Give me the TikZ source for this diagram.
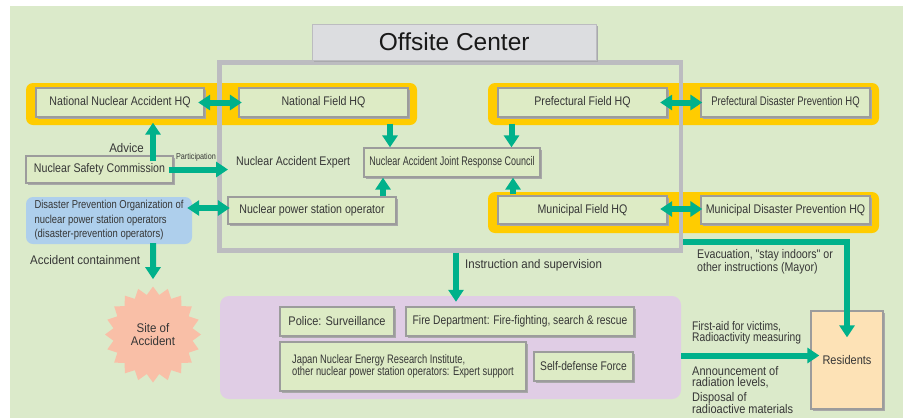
\documentclass[tikz,border=0pt]{standalone}
\usepackage{fontspec}
\setmainfont{Liberation Sans}
\newfontfamily\fA{Liberation Sans}[FakeStretch=0.85]
\newfontfamily\fB{Liberation Sans}[FakeStretch=0.76]
\newfontfamily\fC{Liberation Sans}[FakeStretch=0.72]
\newfontfamily\fL{Liberation Sans}[FakeStretch=0.92]
\newfontfamily\fM{Liberation Sans}[FakeStretch=0.82]
\newfontfamily\fN{Liberation Sans}[FakeStretch=0.88]
\newcommand\fsz{\fontsize{12.5}{14}\selectfont}
\usetikzlibrary{arrows.meta,shapes.geometric,shadows,calc}
\definecolor{bg}{HTML}{DBEACA}
\definecolor{boxfill}{HTML}{DDEBC5}
\definecolor{boxline}{HTML}{9C9C9C}
\definecolor{shadowc}{HTML}{A8A8A8}
\definecolor{yel}{HTML}{FFCC00}
\definecolor{framec}{HTML}{BCBCC0}
\definecolor{titlefill}{HTML}{DCDDE0}
\definecolor{arrowc}{HTML}{00B18B}
\definecolor{bluef}{HTML}{AECFEC}
\definecolor{purp}{HTML}{E0CDE5}
\definecolor{starc}{HTML}{F9BFA7}
\definecolor{resc}{HTML}{FDE2B6}
\definecolor{txt}{HTML}{363636}
\begin{document}
\begin{tikzpicture}[x=1pt,y=-1pt,
  box/.style={draw=boxline,line width=1.3pt,fill=boxfill,text=txt,inner sep=0pt,
    minimum height=29pt,font=\fA\fsz,
    drop shadow={shadow xshift=1.8pt,shadow yshift=-1.8pt,fill=shadowc,opacity=1}},
  lab/.style={text=txt,inner sep=0pt,font=\fL\fsz,align=left},
  arr/.style={draw=arrowc,line width=6pt,-{Triangle[width=15pt,length=12pt]}},
  darr/.style={draw=arrowc,line width=6pt,{Triangle[width=15pt,length=12pt]}-{Triangle[width=15pt,length=12pt]}},
  bar/.style={fill=yel,rounded corners=7pt}
]
\useasboundingbox (0,0) rectangle (912,418);
\fill[white] (0,0) rectangle (912,418);
\fill[bg] (10,6) rectangle (903,418);

% yellow bars
\fill[bar] (26,83) rectangle (417,125);
\fill[bar] (488,83) rectangle (879,125);
\fill[bar] (488,192) rectangle (879,233);

% offsite center frame and title
\node[draw=framec,line width=4.5pt,minimum width=461.3pt,minimum height=187.6pt,inner sep=0pt] (frame) at (450.35,156.5) {};
\node[draw=framec,line width=1pt,fill=titlefill,minimum width=283.7pt,minimum height=35.7pt,inner sep=0pt,
  font=\fontsize{24.5}{28}\selectfont,text=black!90,
  drop shadow={shadow xshift=2pt,shadow yshift=-2pt,fill=framec!90!black,opacity=1}] (title) at (454.2,42.2) {Offsite Center};

% purple response area
\node[fill=purp,rounded corners=9pt,minimum width=461pt,minimum height=103pt,inner sep=0pt] (resp) at (450.5,347.5) {};

% boxes
\node[box,minimum width=168pt] (nnahq) at (120,102.5) {National Nuclear Accident HQ};
\node[box,minimum width=169pt] (nfhq) at (323.5,102.5) {National Field HQ};
\node[box,minimum width=169pt] (pfhq) at (582.5,102.5) {Prefectural Field HQ};
\node[box,minimum width=169pt,font=\fB\fsz] (pdphq) at (785.5,102.5) {Prefectural Disaster Prevention HQ};
\node[box,minimum width=169pt,minimum height=28pt] (mfhq) at (582.5,210) {Municipal Field HQ};
\node[box,minimum width=169pt,minimum height=28pt] (mdphq) at (785.5,210) {Municipal Disaster Prevention HQ};
\node[box,minimum width=176pt,font=\fC\fsz] (council) at (452,162.5) {Nuclear Accident Joint Response Council};
\node[box,minimum width=147pt,minimum height=27pt] (nsc) at (99.5,169.5) {Nuclear Safety Commission};
\node[box,minimum width=168pt,minimum height=27pt] (npso) at (312,210.5) {Nuclear power station operator};
\node[fill=bluef,rounded corners=7pt,text=txt,inner sep=0pt,minimum width=166pt,
  minimum height=47pt,align=left,font=\fM\fontsize{11.5}{14.5}\selectfont] (dpo) at (109,220.5)
  {Disaster Prevention Organization of\\nuclear power station operators\\(disaster-prevention operators)};
\node[box,minimum width=114pt,font=\fN\fsz] (police) at (337,321.5) {Police: Surveillance};
\node[box,minimum width=228pt,font=\fM\fsz] (fire) at (520,321.5) {Fire Department: Fire-fighting, search \& rescue};
\node[box,minimum width=246pt,minimum height=49pt,align=left,
  font=\fB\fontsize{12.3}{12}\selectfont] (jaeri) at (403,366.5)
  {Japan Nuclear Energy Research Institute,\\other nuclear power station operators: Expert support};
\node[box,minimum width=99pt,font=\fM\fsz] (sdf) at (583.5,366.5) {Self-defense Force};
\node[box,fill=resc,minimum width=72pt,minimum height=98pt,font=\fN\fsz] (res) at (847,360) {Residents};
\node[star,star points=20,star point ratio=1.2,fill=starc,minimum size=96pt,inner sep=0pt,
  text=txt,align=center,font=\fL\fontsize{12.5}{13}\selectfont] (site) at (153,334.5) {Site of\\Accident};

% labels
\node[lab,anchor=west,font=\fA\fsz] (expert) at (236,162) {Nuclear Accident Expert};
\node[lab,anchor=east] (advice) at (144,148) {Advice};
\node[lab,font=\fA\fontsize{8.5}{10}\selectfont] (part) at (196,157) {Participation};
\node[lab,anchor=west] (contain) at (30,260) {Accident containment};
\node[lab,anchor=west] (instr) at (465,265) {Instruction and supervision};
\node[lab,anchor=north west,font=\fA\fontsize{12.5}{13}\selectfont] (evac) at (697,249) {Evacuation, "stay indoors" or\\other instructions (Mayor)};
\node[lab,anchor=north west,font=\fM\fontsize{12.5}{11.5}\selectfont] (aid) at (692,321) {First-aid for victims,\\Radioactivity measuring};
\node[lab,anchor=north west,font=\fN\fontsize{12.5}{11.2}\selectfont] (ann) at (692,366) {Announcement of\\radiation levels,};
\node[lab,anchor=north west,font=\fN\fontsize{12.5}{11.2}\selectfont] (disp) at (692,392) {Disposal of\\radioactive materials};

% arrows
\draw[darr] ($(nnahq.east)+(-6.5,0)$) -- ($(nfhq.west)+(3.5,0)$);
\draw[arr] ($(nsc.north)+(53.5,6)$) -- ($(nnahq.south)+(33,5)$);
\draw[arr] ($(nsc.east)+(-5,0)$) -- ($(nsc.east -| expert.west)+(-8,0)$);
\draw[arr] ($(nfhq.south)+(66.5,6)$) -- ($(council.north)+(-62,0)$);
\draw[arr] ($(pfhq.south)+(-71,6)$) -- ($(council.north)+(59.5,0)$);
\draw[arr] ($(mfhq.north)+(-69.5,-1)$) -- ($(council.south)+(61,0)$);
\draw[arr] ($(npso.north)+(71,0)$) -- ($(council.south)+(-69,0)$);
\draw[darr] ($(dpo.east)+(-5,-12.5)$) -- ($(npso.west)+(2.5,-2.5)$);
\draw[darr] ($(pfhq.east)+(-7.5,0)$) -- ($(pdphq.west)+(2,0)$);
\draw[darr] ($(mfhq.east)+(-7.5,-1)$) -- ($(mdphq.west)+(2,-1)$);
\draw[arr] ($(dpo.south)+(44,-1)$) -- ($(site.north)+(0,-7)$);
\draw[arr] ($(frame.south)+(5.65,0)$) -- ($(resp.north)+(5.5,6)$);
\draw[arr,line join=miter] ($(frame.east)+(0,85.5)$) -| ($(res.north)+(0,27)$);
\draw[arr] ($(resp.east)+(0,8)$) -- ($(res.west)+(9,-4.5)$);
\end{tikzpicture}
\end{document}
